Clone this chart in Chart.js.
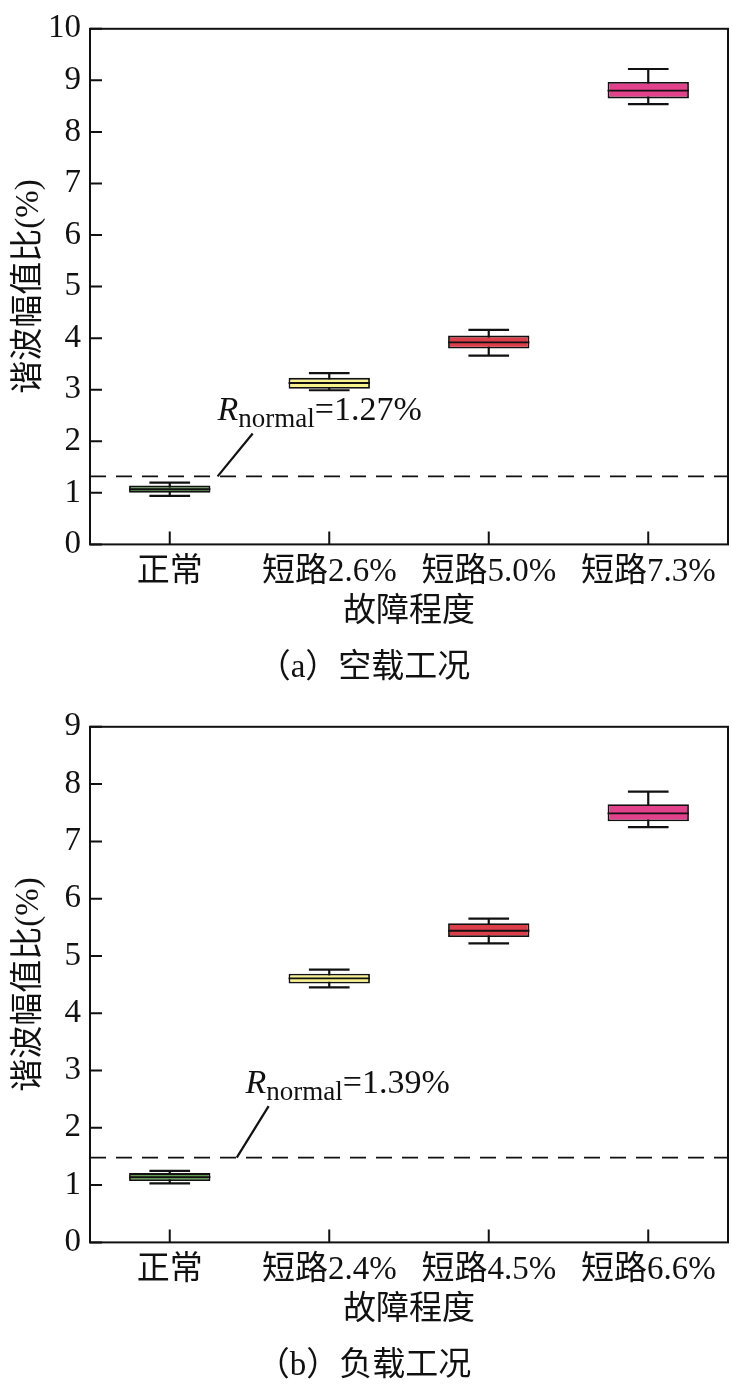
<!DOCTYPE html>
<html>
<head>
<meta charset="utf-8">
<script src="https://cdn.jsdelivr.net/npm/chart.js@4.4.0/dist/chart.umd.min.js"></script>
<style>
  body { margin: 0; background: #fff; }
  .wrap { width: 732px; height: 698px; }
</style>
</head>
<body>
<div class="wrap"><canvas id="chartA" width="732" height="698"></canvas></div>
<div class="wrap"><canvas id="chartB" width="732" height="698"></canvas></div>
<script>
// (a) 空载工况
var labelsA = ['正常', '短路2.6%', '短路5.0%', '短路7.3%'];
var minA = [0.94, 2.99, 3.66, 8.54];
var q1A  = [1.00, 3.02, 3.80, 8.65];
var medA = [1.07, 3.13, 3.92, 8.80];
var q3A  = [1.14, 3.23, 4.05, 8.97];
var maxA = [1.20, 3.32, 4.16, 9.22];
var normA = 1.32;
var normTextA = '=1.27%';

// (b) 负载工况
var labelsB = ['正常', '短路2.4%', '短路4.5%', '短路6.6%'];
var minB = [1.03, 4.45, 5.22, 7.25];
var q1B  = [1.07, 4.52, 5.33, 7.35];
var medB = [1.14, 4.61, 5.44, 7.49];
var q3B  = [1.21, 4.69, 5.57, 7.65];
var maxB = [1.25, 4.76, 5.65, 7.87];
var normB = 1.48;
var normTextB = '=1.39%';

var boxColors = ['#659a55', '#f7f18e', '#dc3e4a', '#e2418c'];
var FONT = '"Liberation Serif", "Times New Roman", "Noto Sans CJK SC", serif';

var boxExtras = {
  id: 'boxExtras',
  beforeDatasetsDraw: function(chart, args, o) {
    var ctx = chart.ctx, x = chart.scales.x, y = chart.scales.y;
    ctx.save();
    ctx.strokeStyle = '#111';
    ctx.lineWidth = 2.2;
    for (var i = 0; i < o.min.length; i++) {
      var px = x.getPixelForValue(i);
      ctx.beginPath();
      ctx.moveTo(px, y.getPixelForValue(o.min[i]));
      ctx.lineTo(px, y.getPixelForValue(o.max[i]));
      ctx.stroke();
    }
    ctx.restore();
  },
  afterDatasetsDraw: function(chart, args, o) {
    var ctx = chart.ctx, x = chart.scales.x, y = chart.scales.y;
    var area = chart.chartArea;
    var bars = chart.getDatasetMeta(0).data;
    ctx.save();
    ctx.strokeStyle = '#111';
    ctx.lineWidth = 1.8;
    for (var i = 0; i < o.min.length; i++) {
      var px = x.getPixelForValue(i);
      var w = bars[i].width;
      var cap = w / 4;
      ctx.beginPath();
      ctx.moveTo(px - w / 2, y.getPixelForValue(o.med[i]));
      ctx.lineTo(px + w / 2, y.getPixelForValue(o.med[i]));
      ctx.stroke();
      ctx.lineWidth = 2.2;
      ctx.beginPath();
      ctx.moveTo(px - cap, y.getPixelForValue(o.min[i]));
      ctx.lineTo(px + cap, y.getPixelForValue(o.min[i]));
      ctx.moveTo(px - cap, y.getPixelForValue(o.max[i]));
      ctx.lineTo(px + cap, y.getPixelForValue(o.max[i]));
      ctx.stroke();
      ctx.lineWidth = 1.8;
    }

    // dashed reference line
    ctx.lineWidth = 1.8;
    ctx.setLineDash([16, 10]);
    var ny = y.getPixelForValue(o.norm);
    ctx.beginPath();
    ctx.moveTo(area.left, ny);
    ctx.lineTo(area.right, ny);
    ctx.stroke();
    ctx.setLineDash([]);

    // leader line
    ctx.lineWidth = 2.2;
    ctx.beginPath();
    ctx.moveTo(x.getPixelForValue(o.lead[0]), y.getPixelForValue(o.norm));
    ctx.lineTo(x.getPixelForValue(o.lead[1]), y.getPixelForValue(o.lead[2]));
    ctx.stroke();

    // R_normal label
    var tx = x.getPixelForValue(o.textAt[0]);
    var ty = y.getPixelForValue(o.textAt[1]);
    ctx.fillStyle = '#111';
    ctx.textBaseline = 'alphabetic';
    ctx.textAlign = 'left';
    ctx.font = 'italic 34px ' + FONT;
    ctx.fillText('R', tx, ty);
    tx += ctx.measureText('R').width;
    ctx.font = '27px ' + FONT;
    ctx.fillText('normal', tx, ty + 7);
    tx += ctx.measureText('normal').width;
    ctx.font = '34px ' + FONT;
    ctx.fillText(o.text, tx, ty);

    // frame
    ctx.lineWidth = 2;
    ctx.strokeRect(area.left, area.top, area.right - area.left, area.bottom - area.top);

    // inner tick marks
    ctx.beginPath();
    y.ticks.forEach(function(t, k) {
      var p = y.getPixelForTick(k);
      ctx.moveTo(area.left, p);
      ctx.lineTo(area.left + 12, p);
    });
    for (var j = 0; j < o.min.length; j++) {
      var q = x.getPixelForValue(j);
      ctx.moveTo(q, area.bottom);
      ctx.lineTo(q, area.bottom - 13);
    }
    ctx.stroke();
    ctx.restore();
  }
};

function makeChart(id, labels, q1, q3, mn, md, mx, yMax, norm, text, lead, textAt, caption, topPad) {
  var boxes = [];
  for (var i = 0; i < labels.length; i++) boxes.push([q1[i], q3[i]]);
  return new Chart(document.getElementById(id), {
    type: 'bar',
    data: {
      labels: labels,
      datasets: [{
        data: boxes,
        backgroundColor: boxColors,
        borderColor: '#111',
        borderWidth: 1.8,
        borderSkipped: false,
        categoryPercentage: 1,
        barPercentage: 0.51
      }]
    },
    options: {
      responsive: false,
      animation: false,
      layout: { padding: { left: 0, right: 4, top: topPad, bottom: 0 } },
      plugins: {
        legend: { display: false },
        tooltip: { enabled: false },
        title: {
          display: true,
          position: 'bottom',
          text: caption,
          color: '#111',
          font: { family: FONT, size: 33, weight: 'normal', lineHeight: 1.2 },
          padding: { top: 0, bottom: 10 }
        },
        boxExtras: {
          min: mn, med: md, max: mx, norm: norm, text: text, lead: lead, textAt: textAt
        }
      },
      scales: {
        x: {
          afterFit: function(s) { s.height = 104; },
          grid: { display: false, drawTicks: false },
          border: { display: false },
          ticks: { color: '#111', padding: 8, font: { family: FONT, size: 33 } },
          title: {
            display: true,
            text: '故障程度',
            color: '#111',
            font: { family: FONT, size: 33, lineHeight: 1.2 },
            padding: { top: 0, bottom: 16 }
          }
        },
        y: {
          min: 0,
          max: yMax,
          afterFit: function(s) { s.width = 90; },
          grid: { display: false, drawTicks: false },
          border: { display: false },
          ticks: { stepSize: 1, color: '#111', padding: 9, font: { family: FONT, size: 33 } },
          title: {
            display: true,
            text: '谐波幅值比(%)',
            color: '#111',
            font: { family: FONT, size: 33, lineHeight: 1.2 },
            padding: { top: 10, bottom: 0 }
          }
        }
      }
    },
    plugins: [boxExtras]
  });
}

makeChart('chartA', labelsA, q1A, q3A, minA, medA, maxA, 10, normA, normTextA,
  [0.30, 0.52, 2.15], [0.30, 2.41], '（a）空载工况', 18);
makeChart('chartB', labelsB, q1B, q3B, minB, medB, maxB, 9, normB, normTextB,
  [0.42, 0.62, 2.38], [0.475, 2.60], '（b）负载工况', 15);
</script>
</body>
</html>
